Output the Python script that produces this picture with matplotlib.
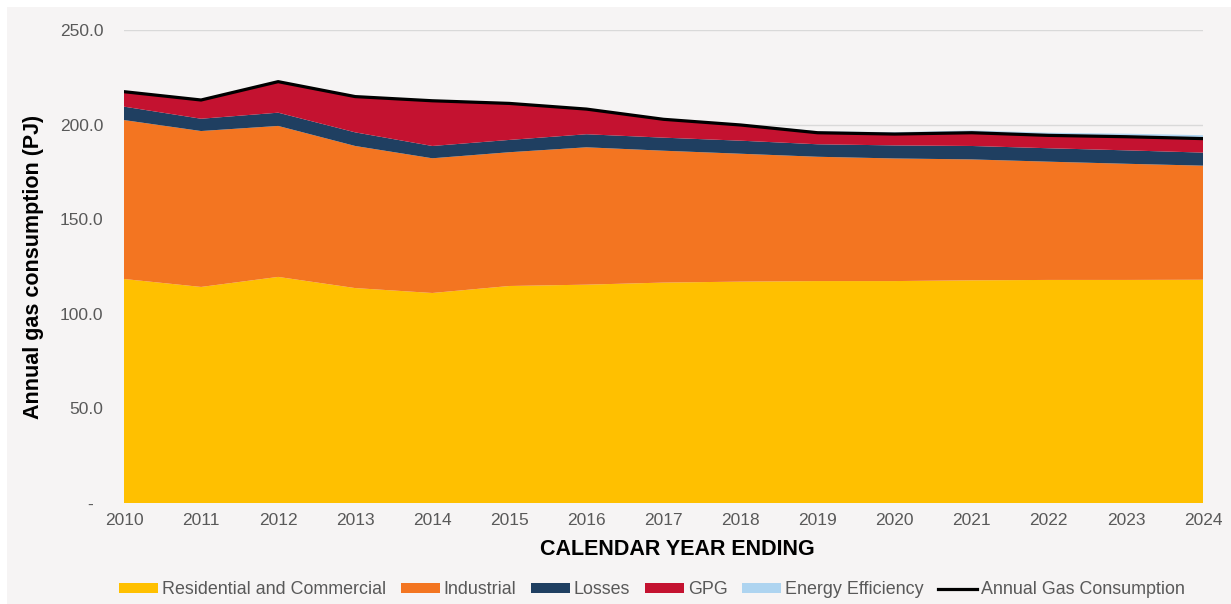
import matplotlib
matplotlib.use('Agg')
import matplotlib.pyplot as plt
from matplotlib.patches import Rectangle, Patch
from matplotlib.lines import Line2D

plt.rcParams['font.family'] = ['Liberation Sans', 'DejaVu Sans']

# Data (PJ)
years = list(range(2010, 2025))
residential = [118.4, 114.2, 119.5, 113.6, 111.0, 114.7, 115.4, 116.5, 117.0, 117.3, 117.3, 117.7, 117.9, 117.9, 118.0]
industrial = [84.0, 82.4, 79.8, 75.1, 71.2, 70.7, 72.6, 69.7, 67.6, 65.7, 64.8, 63.9, 62.5, 61.4, 60.3]
losses = [7.1, 6.5, 7.0, 7.2, 6.5, 6.5, 6.9, 6.9, 6.9, 6.6, 6.9, 7.1, 7.1, 7.1, 6.9]
gpg = [7.9, 9.9, 16.4, 18.9, 23.9, 19.3, 13.3, 9.7, 8.3, 6.1, 6.0, 7.0, 6.8, 7.2, 7.4]
energy_eff = [0.0, 0.0, 0.0, 0.0, 0.0, 0.0, 0.0, 0.0, 0.4, 0.8, 1.0, 1.2, 1.4, 1.6, 1.8]
annual_total = [217.4, 213.0, 222.7, 214.8, 212.6, 211.2, 208.2, 202.8, 199.8, 195.7, 195.0, 195.7, 194.3, 193.6, 192.6]

series_names = ["Residential and Commercial", "Industrial", "Losses", "GPG", "Energy Efficiency"]
colors = ["#FFC000", "#F37521", "#1F3F61", "#C41230", "#AED4F0"]
yticks = [0, 50, 100, 150, 200, 250]
ytick_labels = ["-  ", "50.0", "100.0", "150.0", "200.0", "250.0"]

bg = "#F6F4F4"
fig = plt.figure(figsize=(12.31, 6.04), dpi=100)
fig.patch.set_facecolor("white")
fig.add_artist(Rectangle((7 / 1231, 0), 1, 1 - 7 / 604, transform=fig.transFigure,
                         facecolor=bg, edgecolor="none", zorder=-10))

ax = fig.add_axes([124 / 1231, 1 - 503 / 604, 1079 / 1231, 473 / 604])
ax.set_facecolor(bg)

ax.stackplot(years, residential, industrial, losses, gpg, energy_eff,
             colors=colors, labels=series_names, linewidth=0, zorder=2)
ax.plot(years, annual_total, color="black", linewidth=2.3, zorder=3,
        label="Annual Gas Consumption")

ax.set_xlim(2010, 2024)
ax.set_ylim(0, 250)
ax.set_xticks(years)
ax.set_xticklabels([str(y) for y in years])
ax.set_yticks(yticks)
ax.set_yticklabels(ytick_labels)
ax.tick_params(axis="both", length=0, labelsize=12.5, labelcolor="#595959")
ax.tick_params(axis="x", pad=7.5)
ax.tick_params(axis="y", pad=15)
ax.yaxis.grid(True, color="#D9D9D9", linewidth=1, zorder=0)
ax.set_axisbelow(True)
for s in ax.spines.values():
    s.set_visible(False)

ax.set_xlabel("CALENDAR YEAR ENDING", fontsize=15.5, fontweight="bold", color="black")
ax.xaxis.set_label_coords(0.5125, -0.077)
ax.set_ylabel("Annual gas consumption (PJ)", fontsize=15.5, fontweight="bold", color="black")
ax.yaxis.set_label_coords(-0.074, 0.5)

handles = [Patch(facecolor=c, edgecolor="none") for c in colors]
handles.append(Line2D([0], [0], color="black", linewidth=2.3))
labels = series_names + ["Annual Gas Consumption"]
leg = fig.legend(handles, labels, loc="center", bbox_to_anchor=(652 / 1231, 1 - 590 / 604),
                 ncol=6, frameon=False, fontsize=12.85, handlelength=2.2, handleheight=0.5,
                 handletextpad=0.22, columnspacing=0.8, borderaxespad=0)
for t in leg.get_texts():
    t.set_color("#595959")

fig.savefig("out.png", dpi=100, facecolor=fig.get_facecolor())
